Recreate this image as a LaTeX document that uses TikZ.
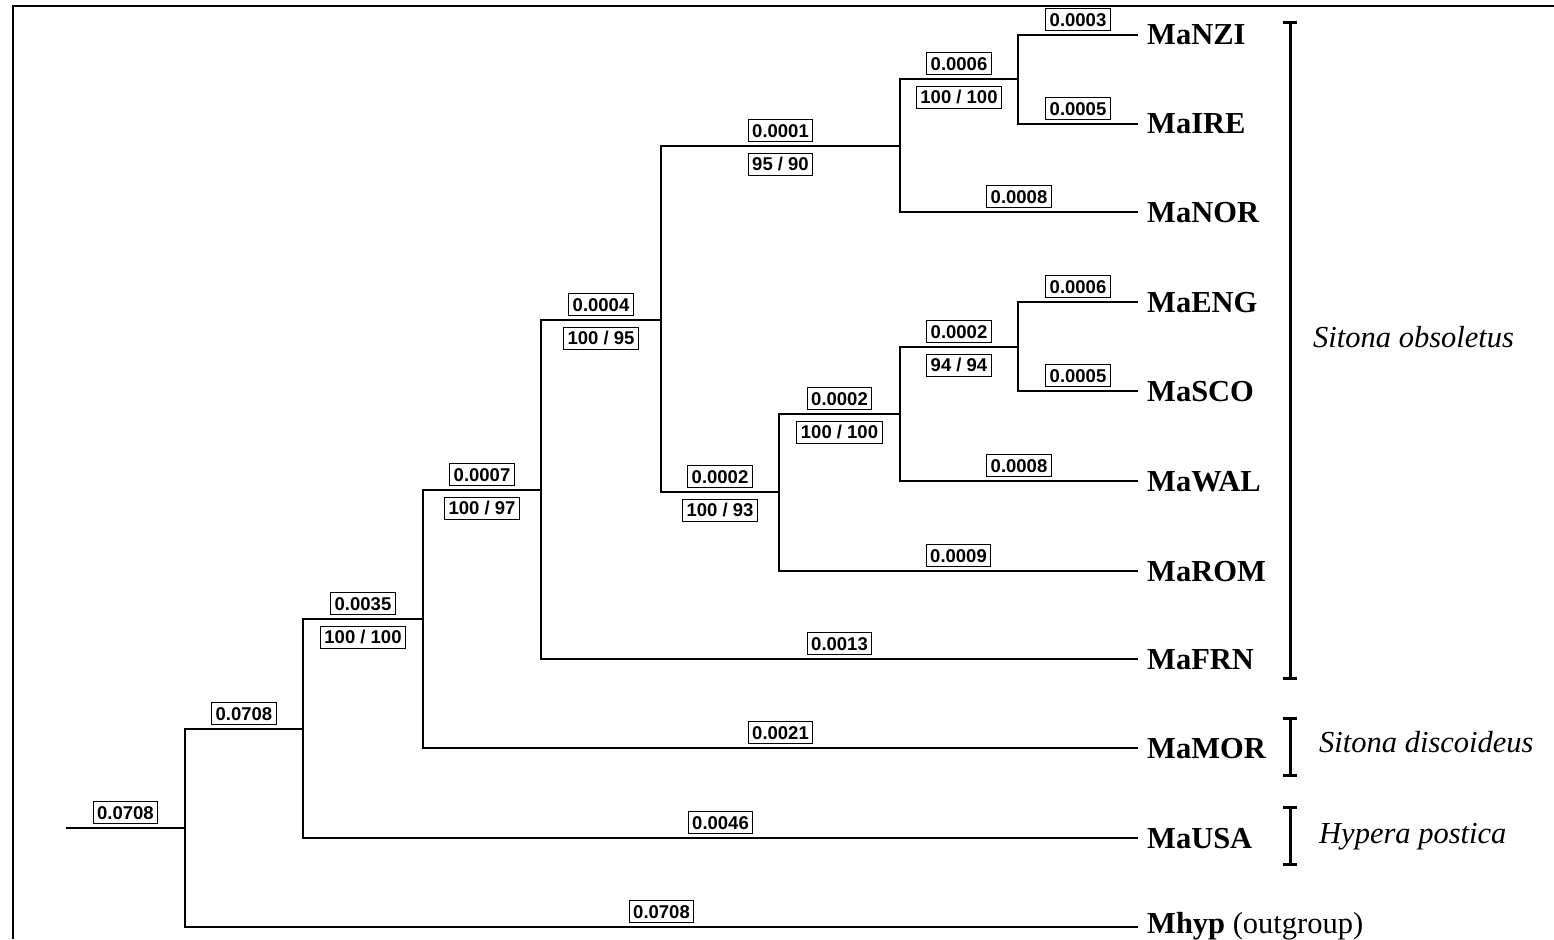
\documentclass[tikz,border=0pt]{standalone}
\usepackage{fontspec}
\setmainfont{Liberation Serif}
\newfontfamily\labfont{Liberation Sans}
\begin{document}
\begin{tikzpicture}[x=1pt,y=-1pt,
  branch/.style={line width=1.1pt},
  bl/.style={draw, line width=0.9pt, fill=white, font=\labfont\bfseries\fontsize{18.5}{19}\selectfont, inner xsep=4pt, inner ysep=4.2pt, text height=13.3pt, text depth=0.3pt},
  up/.style={bl, above=4pt, pos=.75},
  low/.style={bl, below=7pt, pos=.75},
  tip/.style={anchor=west, font=\bfseries\fontsize{30.5}{32}\selectfont, inner sep=0pt, text height=20pt, text depth=0pt},
  spec/.style={anchor=base west, font=\itshape\fontsize{30.5}{32}\selectfont, inner sep=0pt},
  bracket/.style={line width=3pt},
  frame/.style={line width=2pt},
]
\useasboundingbox (0,0) rectangle (1554,939);
\draw[frame] (13,939) -- (13,6) -- (1554,6);

% internal nodes
\coordinate (r0) at (66,828);
\coordinate (n1) at (185,828);
\coordinate (n2) at (303,729);
\coordinate (n3) at (423,619);
\coordinate (n4) at (541,490);
\coordinate (n5) at (661,320);
\coordinate (n6) at (900,146);
\coordinate (n7) at (1018,79);
\coordinate (n8) at (779,492);
\coordinate (n9) at (900,414);
\coordinate (n10) at (1018,347);

% tips
\coordinate (tNZI) at (1138,35);
\coordinate (tIRE) at (1138,124);
\coordinate (tNOR) at (1138,212);
\coordinate (tENG) at (1138,302);
\coordinate (tSCO) at (1138,391);
\coordinate (tWAL) at (1138,481);
\coordinate (tROM) at (1138,571);
\coordinate (tFRN) at (1138,659);
\coordinate (tMOR) at (1138,748);
\coordinate (tUSA) at (1138,838);
\coordinate (tMhyp) at (1138,927);

\node[tip] (NZI) at (1147,35) {MaNZI};
\node[tip] (IRE) at (1147,124) {MaIRE};
\node[tip] (NOR) at (1147,212) {MaNOR};
\node[tip] (ENG) at (1147,302) {MaENG};
\node[tip] (SCO) at (1147,391) {MaSCO};
\node[tip] (WAL) at (1147,481) {MaWAL};
\node[tip] (ROM) at (1147,571) {MaROM};
\node[tip] (FRN) at (1147,659) {MaFRN};
\node[tip] (MOR) at (1147,748) {MaMOR};
\node[tip] (USA) at (1147,838) {MaUSA};
\node[tip] (Mhyp) at (1147,923) {Mhyp {\mdseries (outgroup)}};

% branches
\draw[branch] (r0) -- node[up,pos=.5]{0.0708} (n1);
\draw[branch] (n1) |- node[up]{0.0708} (n2);
\draw[branch] (n1) |- node[up]{0.0708} (tMhyp);
\draw[branch] (n2) |- node[up]{0.0035} node[low]{100 / 100} (n3);
\draw[branch] (n2) |- node[up]{0.0046} (tUSA);
\draw[branch] (n3) |- node[up]{0.0007} node[low]{100 / 97} (n4);
\draw[branch] (n3) |- node[up]{0.0021} (tMOR);
\draw[branch] (n4) |- node[up]{0.0004} node[low]{100 / 95} (n5);
\draw[branch] (n4) |- node[up]{0.0013} (tFRN);
\draw[branch] (n5) |- node[up]{0.0001} node[low]{95 / 90} (n6);
\draw[branch] (n5) |- node[up]{0.0002} node[low]{100 / 93} (n8);
\draw[branch] (n6) |- node[up]{0.0006} node[low]{100 / 100} (n7);
\draw[branch] (n6) |- node[up]{0.0008} (tNOR);
\draw[branch] (n7) |- node[up]{0.0003} (tNZI);
\draw[branch] (n7) |- node[up]{0.0005} (tIRE);
\draw[branch] (n8) |- node[up]{0.0002} node[low]{100 / 100} (n9);
\draw[branch] (n8) |- node[up]{0.0009} (tROM);
\draw[branch] (n9) |- node[up]{0.0002} node[low]{94 / 94} (n10);
\draw[branch] (n9) |- node[up]{0.0008} (tWAL);
\draw[branch] (n10) |- node[up]{0.0006} (tENG);
\draw[branch] (n10) |- node[up]{0.0005} (tSCO);

% brackets
\draw[bracket] (1283,23) -- (1297,23) (1290,23) -- (1290,678) (1283,678) -- (1297,678);
\draw[bracket] (1283,718) -- (1297,718) (1290,718) -- (1290,775) (1283,775) -- (1297,775);
\draw[bracket] (1283,807) -- (1297,807) (1290,807) -- (1290,864) (1283,864) -- (1297,864);

\node[spec] (sobs) at (1313,347) {Sitona obsoletus};
\node[spec] (sdis) at (1319,752) {Sitona discoideus};
\node[spec] (hyp) at (1319,843) {Hypera postica};
\end{tikzpicture}
\end{document}
